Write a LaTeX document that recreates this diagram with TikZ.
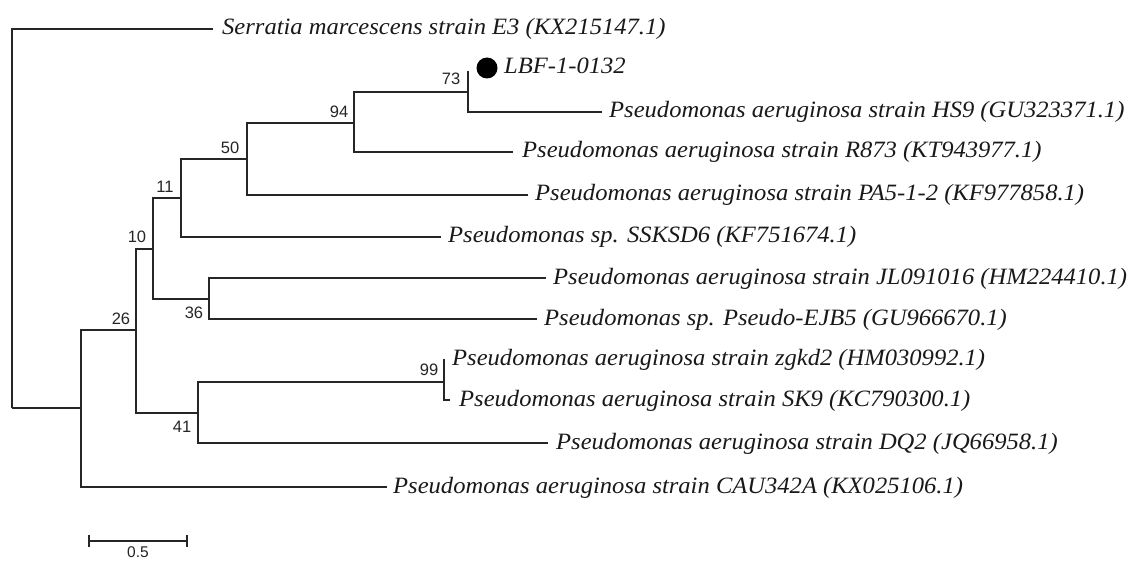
\documentclass[tikz,border=0pt]{standalone}
\usepackage{fontspec}
\setmainfont{Liberation Serif}
\newfontfamily\taxfont[FakeStretch=1.05]{Liberation Serif}
\newfontfamily\numfont{Liberation Sans}
\usetikzlibrary{calc}
\begin{document}
\begin{tikzpicture}[x=1pt,y=-1pt,
  branch/.style={draw=black!85, line width=1.5pt},
  taxon/.style={anchor=base west, inner sep=0pt, text=black!90,
    font=\taxfont\itshape\fontsize{23.4}{27}\selectfont},
  boot/.style={inner sep=0pt, text=black!85, font=\numfont\fontsize{16.5}{19}\selectfont},
  scalelab/.style={inner sep=0pt, text=black!85, font=\numfont\fontsize{15.5}{18}\selectfont},
  mark dot/.style={circle, fill=black, inner sep=0pt, minimum size=21pt}]
\useasboundingbox (0,0) rectangle (1137,561);
\fill[white] (0,0) rectangle (1137,561);
% internal nodes
\coordinate (R)   at (12,408);
\coordinate (I)   at (81,408);
\coordinate (N26) at (136,330);
\coordinate (N10) at (153,249);
\coordinate (N11) at (181,198);
\coordinate (N50) at (247,159);
\coordinate (N94) at (354,123);
\coordinate (N73) at (468,92);
\coordinate (N36) at (209,299);
\coordinate (N41) at (198,413);
\coordinate (N99) at (444,382);
% leaf ends
\coordinate (Lser) at (213,29);
\coordinate (Lcau) at (387,487);
\coordinate (Lssk) at (441,237);
\coordinate (Lpa5) at (528,195);
\coordinate (Lr87) at (513,152);
\coordinate (Llbf) at (468,71);
\coordinate (Lhs9) at (602,112);
\coordinate (Ljl)  at (546,278);
\coordinate (Lejb) at (537,319);
\coordinate (Ldq2) at (548,443);
\coordinate (Lzg)  at (444,359);
\coordinate (Lsk9) at (450,400);
% branches
\draw[branch] (R) |- (Lser);
\draw[branch] (R) |- (I);
\draw[branch] (I) |- (N26);
\draw[branch] (I) |- (Lcau);
\draw[branch] (N26) |- (N10);
\draw[branch] (N26) |- (N41);
\draw[branch] (N10) |- (N11);
\draw[branch] (N10) |- (N36);
\draw[branch] (N11) |- (N50);
\draw[branch] (N11) |- (Lssk);
\draw[branch] (N50) |- (N94);
\draw[branch] (N50) |- (Lpa5);
\draw[branch] (N94) |- (N73);
\draw[branch] (N94) |- (Lr87);
\draw[branch] (N73) |- (Llbf);
\draw[branch] (N73) |- (Lhs9);
\draw[branch] (N36) |- (Ljl);
\draw[branch] (N36) |- (Lejb);
\draw[branch] (N41) |- (N99);
\draw[branch] (N41) |- (Ldq2);
\draw[branch] (N99) |- (Lzg);
\draw[branch] (N99) |- (Lsk9);
% marker
\node[mark dot] (dot) at (487,68) {};
% taxa
\node[taxon] (tser) at ($(Lser)+(9,6)$) {Serratia marcescens strain E3 (KX215147.1)};
\node[taxon] (tlbf) at ($(dot)+(17,6)$) {LBF-1-0132};
\node[taxon] (ths9) at ($(Lhs9)+(7,6)$) {Pseudomonas aeruginosa strain HS9 (GU323371.1)};
\node[taxon] (tr87) at ($(Lr87)+(9,6)$) {Pseudomonas aeruginosa strain R873 (KT943977.1)};
\node[taxon] (tpa5) at ($(Lpa5)+(7,6)$) {Pseudomonas aeruginosa strain PA5-1-2 (KF977858.1)};
\node[taxon] (tssk) at ($(Lssk)+(7,6)$) {Pseudomonas sp. SSKSD6 (KF751674.1)};
\node[taxon] (tjl)  at ($(Ljl)+(7,6)$) {Pseudomonas aeruginosa strain JL091016 (HM224410.1)};
\node[taxon] (tejb) at ($(Lejb)+(7,6)$) {Pseudomonas sp. Pseudo-EJB5 (GU966670.1)};
\node[taxon] (tzg)  at ($(Lzg)+(8,6)$) {Pseudomonas aeruginosa strain zgkd2 (HM030992.1)};
\node[taxon] (tsk9) at ($(Lsk9)+(9,6)$) {Pseudomonas aeruginosa strain SK9 (KC790300.1)};
\node[taxon] (tdq2) at ($(Ldq2)+(8,6)$) {Pseudomonas aeruginosa strain DQ2 (JQ66958.1)};
\node[taxon] (tcau) at ($(Lcau)+(6,6)$) {Pseudomonas aeruginosa strain CAU342A (KX025106.1)};
% bootstrap values
\node[boot] (b94) at (339,112) {94};
\node[boot] (b50) at (230,148) {50};
\node[boot] (b11) at (165,187) {11};
\node[boot] (b73) at (451,79) {73};
\node[boot] (b10) at (137,237) {10};
\node[boot] (b36) at (194,313) {36};
\node[boot] (b26) at (121,319) {26};
\node[boot] (b99) at (429,370) {99};
\node[boot] (b41) at (182,427) {41};
% scale bar
\coordinate (S1) at (89,541);
\coordinate (S2) at (187,541);
\draw[branch] (S1) -- (S2);
\draw[branch] ($(S1)+(0,-6)$) -- ($(S1)+(0,6)$);
\draw[branch] ($(S2)+(0,-6)$) -- ($(S2)+(0,6)$);
\node[scalelab] (s05) at (138,552) {0.5};
\end{tikzpicture}
\end{document}
